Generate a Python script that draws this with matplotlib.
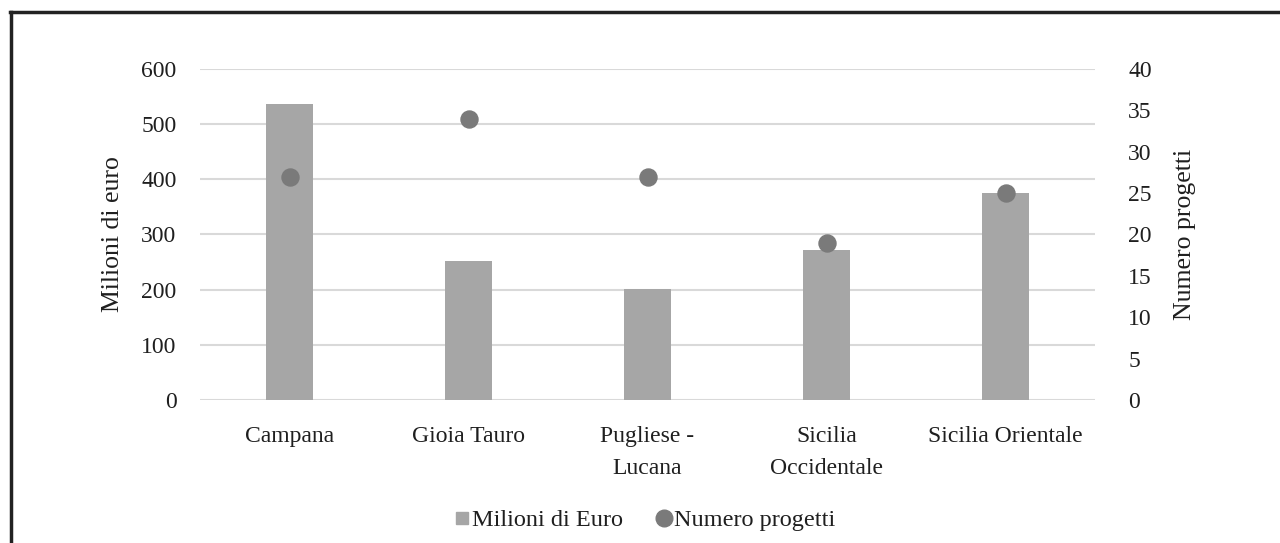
import matplotlib
matplotlib.use("Agg")
import matplotlib.pyplot as plt
from matplotlib.lines import Line2D

plt.rcParams['font.family'] = ['Liberation Serif', 'DejaVu Serif']

categories = ["Campana", "Gioia Tauro", "Pugliese -\nLucana", "Sicilia\nOccidentale", "Sicilia Orientale"]
milioni = [536, 252, 201, 272, 375]
progetti = [27, 34, 27, 19, 25]
left_ticks = [0, 100, 200, 300, 400, 500, 600]
right_ticks = [0, 5, 10, 15, 20, 25, 30, 35, 40]

bar_color = "#a6a6a6"
dot_color = "#7a7a7a"
txt = "#1f1f1f"

fig = plt.figure(figsize=(12.8, 5.43), dpi=100)
ax = fig.add_axes([200/1280, 1 - 400/543, 895/1280, 331/543])
ax2 = ax.twinx()

x = list(range(len(categories)))
ax.bar(x, milioni, width=0.26, color=bar_color, zorder=2)
ax.set_ylim(0, 600)
ax.set_xlim(-0.5, 4.5)
ax.set_yticks(left_ticks)
ax.yaxis.grid(True, color="#d9d9d9", linewidth=1.5, zorder=0)
ax.set_axisbelow(True)
for s in ax.spines.values():
    s.set_visible(False)
for s in ax2.spines.values():
    s.set_visible(False)
ax.tick_params(axis='both', length=0, labelsize=17, colors=txt)
ax.tick_params(axis='x', pad=19)
ax.tick_params(axis='y', pad=17)
ax.set_xticks(x)
ax.set_xticklabels(categories, fontsize=17, color=txt, linespacing=1.65)
ax.set_ylabel("Milioni di euro", fontsize=18.5, color=txt, labelpad=12)

ax2.scatter(x, progetti, s=150, color=dot_color, zorder=3)
ax2.set_ylim(0, 40)
ax2.set_yticks(right_ticks)
ax2.tick_params(axis='y', length=0, labelsize=17, colors=txt, pad=24)
ax2.set_ylabel("Numero progetti", fontsize=18.5, color=txt, labelpad=16)
ax.set_zorder(1); ax2.set_zorder(2)
ax2.patch.set_visible(False)

handles = [Line2D([], [], marker='s', linestyle='none', color=bar_color, markersize=8),
           Line2D([], [], marker='o', linestyle='none', color=dot_color, markersize=12)]
fig.legend(handles, ["Milioni di Euro", "Numero progetti"], loc='center',
           bbox_to_anchor=(644/1280, 1 - 520/543), ncol=2, frameon=False,
           fontsize=17.5, handletextpad=0.0, columnspacing=1.3, handlelength=0.8,
           labelcolor=txt)

# outer frame (top and left)
fig.add_artist(Line2D([10/1280, 1.0], [1 - 12/543, 1 - 12/543], transform=fig.transFigure, color="#222222", linewidth=2.5))
fig.add_artist(Line2D([11/1280, 11/1280], [0, 1 - 12/543], transform=fig.transFigure, color="#222222", linewidth=2.5))

fig.savefig("out.png", dpi=100)
